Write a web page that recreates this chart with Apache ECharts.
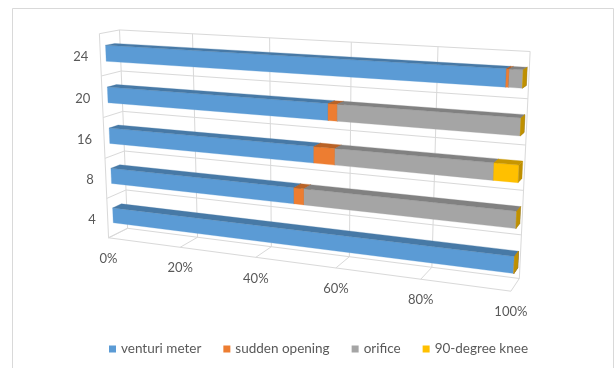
<!DOCTYPE html>
<html>
<head>
<meta charset="utf-8">
<script src="https://cdn.jsdelivr.net/npm/echarts@6/dist/echarts.min.js"></script>
<style>
  html, body { margin: 0; padding: 0; background: #ffffff; }
  #chart { width: 616px; height: 368px; }
</style>
</head>
<body>
<div id="chart"></div>
<script>
// Categories (bottom to top) and the share of each loss component, in percent
const categories = ['4', '8', '16', '20', '24'];
const venturiMeter = [100, 48.7, 53.6, 57.0, 96.5];
const suddenOpening = [0, 2.5, 5.1, 2.2, 0.6];
const orifice = [0, 48.8, 36.0, 40.8, 2.9];
const degreeKnee = [0, 0, 5.3, 0, 0];
const valueTicks = [0, 20, 40, 60, 80, 100];
const seriesNames = ['venturi meter', 'sudden opening', 'orifice', '90-degree knee'];
const seriesColors = ['#5B9BD5', '#ED7D31', '#A5A5A5', '#FFC000'];

const FONT = 'Lato, "Open Sans", sans-serif';
const TEXT_COLOR = '#595959';
const GRID_COLOR = '#d9d9d9';

// Reference points of the 3-D plot box: [u (value 0..1), v (category 0..1), w (depth, 0 front .. 1 back), screen x, screen y]
const boxRefs = [
  [0, 1, 1, 121, 30], [1, 1, 1, 529, 51], [1, 0, 1, 518, 282], [0, 0, 1, 126, 228],
  [0, 0, 0, 109, 238], [1, 0, 0, 511, 292], [0, 1, 0, 97, 35], [1, 1, 0, 522, 56],
  [0.2, 1, 1, 193, 33.7], [0.4, 1, 1, 270, 37.8], [0.6, 1, 1, 352, 42], [0.8, 1, 1, 438, 46.5],
  [0.2, 0, 0, 181.7, 247.7], [0.4, 0, 0, 256.7, 257.3], [0.6, 0, 0, 335, 266.7], [0.8, 0, 0, 420.7, 278.3],
  [0.2, 0, 1, 196.7, 237.3], [0.6, 0, 1, 350, 255], [0.8, 0, 1, 433, 266.7]
];

// Least-squares fit of a 3x4 perspective camera matrix (last entry fixed to 1)
function fitCamera(refs) {
  const n = 11;
  const M = [];
  for (let i = 0; i < n; i++) M.push(new Array(n + 1).fill(0));
  const addRow = (r, b) => {
    for (let i = 0; i < n; i++) {
      for (let j = 0; j < n; j++) M[i][j] += r[i] * r[j];
      M[i][n] += r[i] * b;
    }
  };
  refs.forEach(([X, Y, Z, x, y]) => {
    addRow([X, Y, Z, 1, 0, 0, 0, 0, -x * X, -x * Y, -x * Z], x);
    addRow([0, 0, 0, 0, X, Y, Z, 1, -y * X, -y * Y, -y * Z], y);
  });
  for (let c = 0; c < n; c++) {
    let p = c;
    for (let r = c + 1; r < n; r++) if (Math.abs(M[r][c]) > Math.abs(M[p][c])) p = r;
    [M[c], M[p]] = [M[p], M[c]];
    for (let r = 0; r < n; r++) {
      if (r === c) continue;
      const f = M[r][c] / M[c][c];
      for (let k = c; k <= n; k++) M[r][k] -= f * M[c][k];
    }
  }
  return M.map((row, i) => row[n] / row[i]);
}
const cam = fitCamera(boxRefs);
function project(u, v, w) {
  const d = cam[8] * u + cam[9] * v + cam[10] * w + 1;
  return [
    (cam[0] * u + cam[1] * v + cam[2] * w + cam[3]) / d,
    (cam[4] * u + cam[5] * v + cam[6] * w + cam[7]) / d
  ];
}

// Bar box proportions inside each category band and along depth
const BAR_HALF = 0.19;
const BAR_SHIFT = 0.01;
const W_FRONT = 0.27;
const W_BACK = 0.73;

function shade(hex, k) {
  const n = parseInt(hex.slice(1), 16);
  const r = Math.round(((n >> 16) & 255) * k);
  const g = Math.round(((n >> 8) & 255) * k);
  const b = Math.round((n & 255) * k);
  return 'rgb(' + r + ',' + g + ',' + b + ')';
}

// Normalised position of a data point inside the (hidden) cartesian grid
function toUnit(api, cs, value, catIndex) {
  const p = api.coord([value, catIndex]);
  return [(p[0] - cs.x) / cs.width, 1 - (p[1] - cs.y) / cs.height];
}

const allSeries = [venturiMeter, suddenOpening, orifice, degreeKnee];

function stackedData(k) {
  return categories.map((c, i) => {
    const total = allSeries.reduce((s, arr) => s + arr[i], 0);
    let start = 0;
    for (let j = 0; j < k; j++) start += allSeries[j][i];
    return [i, (start / total) * 100, ((start + allSeries[k][i]) / total) * 100];
  });
}

function renderBar(color) {
  return function (params, api) {
    const cs = params.coordSys;
    const cat = api.value(0);
    const a = toUnit(api, cs, api.value(1), cat);
    const b = toUnit(api, cs, api.value(2), cat);
    const band = api.size([0, 1])[1] / cs.height;
    const vc = a[1] + BAR_SHIFT * band;
    const v0 = vc - BAR_HALF * band;
    const v1 = vc + BAR_HALF * band;
    const u0 = a[0], u1 = b[0];
    const poly = (pts, fill) => ({
      type: 'polygon',
      shape: { points: pts },
      style: { fill: fill, stroke: fill, lineWidth: 0.3 }
    });
    return {
      type: 'group',
      children: [
        poly([project(u0, v0, W_FRONT), project(u1, v0, W_FRONT), project(u1, v1, W_FRONT), project(u0, v1, W_FRONT)], color),
        poly([project(u0, v1, W_FRONT), project(u1, v1, W_FRONT), project(u1, v1, W_BACK), project(u0, v1, W_BACK)], shade(color, 0.78)),
        poly([project(u1, v0, W_FRONT), project(u1, v1, W_FRONT), project(u1, v1, W_BACK), project(u1, v0, W_BACK)], shade(color, 0.75))
      ]
    };
  };
}

// Walls, floor, gridlines and axis labels of the 3-D box
function renderBox(params, api) {
  const cs = params.coordSys;
  const children = [];
  const line = (p, q) => children.push({
    type: 'line',
    shape: { x1: p[0], y1: p[1], x2: q[0], y2: q[1] },
    style: { stroke: GRID_COLOR, lineWidth: 1 }
  });
  const band = api.size([0, 1])[1] / cs.height;
  valueTicks.forEach((t) => {
    const u = toUnit(api, cs, t, 0)[0];
    line(project(u, 0, 1), project(u, 1, 1));
    line(project(u, 0, 0), project(u, 0, 1));
    const lp = project(u, 0, 0);
    children.push({
      type: 'text',
      style: {
        text: t + '%', x: lp[0], y: lp[1] + 21,
        align: 'center', verticalAlign: 'middle',
        fill: TEXT_COLOR, font: '13px ' + FONT
      }
    });
  });
  for (let k = 0; k <= categories.length; k++) {
    const v = k * band;
    line(project(0, v, 1), project(1, v, 1));
    line(project(0, v, 0), project(0, v, 1));
  }
  line(project(0, 0, 0), project(0, 1, 0));
  line(project(0, 0, 0), project(1, 0, 0));
  categories.forEach((c, i) => {
    const v = toUnit(api, cs, 0, i)[1];
    const lp = project(0, v, 0);
    children.push({
      type: 'text',
      style: {
        text: c, x: lp[0] - 12, y: lp[1] + 1.5,
        align: 'right', verticalAlign: 'middle',
        fill: TEXT_COLOR, font: '13px ' + FONT
      }
    });
  });
  return { type: 'group', children: children };
}

const series = [{
  type: 'custom',
  name: 'box',
  silent: true,
  renderItem: renderBox,
  data: [[0, 0, 0]],
  encode: { x: 1, y: 0 }
}];
seriesNames.forEach((name, k) => {
  series.push({
    type: 'custom',
    name: name,
    itemStyle: { color: seriesColors[k] },
    renderItem: renderBar(seriesColors[k]),
    data: stackedData(k),
    encode: { x: [1, 2], y: 0 }
  });
});

const chart = echarts.init(document.getElementById('chart'), null, { renderer: 'canvas' });
chart.setOption({
  animation: false,
  backgroundColor: '#ffffff',
  grid: { left: 100, top: 40, width: 400, height: 200, show: false },
  xAxis: { type: 'value', min: 0, max: 100, show: false },
  yAxis: { type: 'category', data: categories, show: false },
  legend: {
    data: seriesNames,
    left: 104,
    top: 337,
    icon: 'rect',
    itemWidth: 7,
    itemHeight: 7,
    itemGap: 22,
    textStyle: { color: TEXT_COLOR, fontSize: 13.5, fontFamily: FONT }
  },
  graphic: [{
    type: 'rect',
    silent: true,
    z: -10,
    shape: { x: 12.5, y: 8.5, width: 601, height: 380 },
    style: { fill: null, stroke: GRID_COLOR, lineWidth: 1 }
  }],
  series: series
});
</script>
</body>
</html>
